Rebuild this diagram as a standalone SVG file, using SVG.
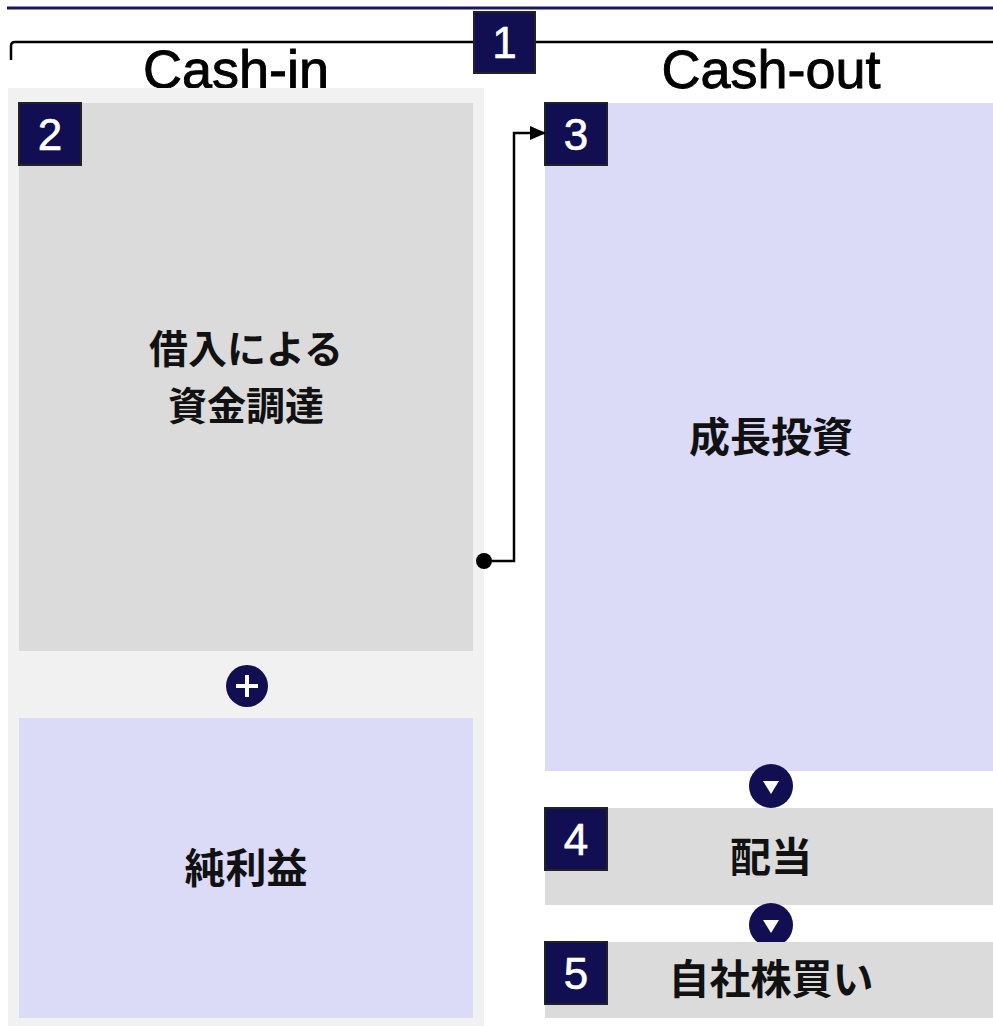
<svg xmlns="http://www.w3.org/2000/svg" width="993" height="1026" viewBox="0 0 993 1026">
<style>
.badge rect{fill:#110f52;stroke:#222;stroke-width:2}
.badge text{fill:#fff;font-family:"Liberation Sans",Arial,sans-serif;font-size:44px;text-anchor:middle;stroke:#fff;stroke-width:0.6}
.jp{font-family:"Noto Sans CJK JP",sans-serif;font-weight:bold;font-size:41px;fill:#111;text-anchor:middle}
.jp2{font-size:39px}
.hdr{font-family:"Liberation Sans",Arial,sans-serif;font-size:54px;fill:#000;text-anchor:middle;stroke:#000;stroke-width:0.9}
.grey{fill:#dbdbdb}
.lav{fill:#dbdaf7}
.circ{fill:#110f52}
</style>
<defs>
<marker id="arr" markerWidth="16" markerHeight="14" refX="15" refY="7" orient="auto" markerUnits="userSpaceOnUse" viewBox="0 0 16 14">
<path d="M0,0 L16,7 L0,14 z" fill="#000"/>
</marker>
</defs>
<rect width="993" height="1026" fill="#fff"/>
<line x1="7" y1="8" x2="993" y2="8" stroke="#1a1860" stroke-width="3"/>
<path d="M11,60 V46 Q11,42 15,42 H993" fill="none" stroke="#000" stroke-width="2.5"/>
<text class="hdr" x="236" y="88">Cash-in</text>
<text class="hdr" x="771" y="88">Cash-out</text>
<g id="node-cashin-panel"><rect x="8" y="88" width="476" height="938" fill="#f1f1f1"/></g>
<g id="node1" class="badge"><rect x="474" y="12" width="61" height="61"/><text x="504.5" y="58">1</text></g>
<g id="node2">
<rect class="grey" x="19" y="103" width="454" height="548"/>
<g class="badge"><rect x="19" y="103" width="62" height="62"/><text x="50" y="150">2</text></g>
<text class="jp jp2" x="246" y="363">借入による</text>
<text class="jp jp2" x="246" y="420">資金調達</text>
</g>
<g id="plus"><circle class="circ" cx="247" cy="686" r="21"/><path d="M236,686 H258 M247,675 V697" stroke="#fff" stroke-width="4"/></g>
<g id="node-netincome">
<rect class="lav" x="19" y="718" width="454" height="300"/>
<text class="jp" x="246" y="883">純利益</text>
</g>
<g id="node3">
<rect class="lav" x="545" y="103" width="448" height="668"/>
<g class="badge"><rect x="545" y="103" width="62" height="62"/><text x="576" y="150">3</text></g>
<text class="jp" x="771" y="452">成長投資</text>
</g>
<g id="down1"><circle class="circ" cx="771" cy="786" r="22"/><path d="M763,781 H779 L771,794 z" fill="#fff"/></g>
<g id="node4">
<rect class="grey" x="545" y="808" width="448" height="97"/>
<g class="badge"><rect x="545" y="808" width="62" height="62"/><text x="576" y="855">4</text></g>
<text class="jp" x="771" y="872">配当</text>
</g>
<g id="down2"><circle class="circ" cx="771" cy="925" r="22"/><path d="M763,920 H779 L771,933 z" fill="#fff"/></g>
<g id="node5">
<rect class="grey" x="545" y="942" width="448" height="76"/>
<g class="badge"><rect x="545" y="942" width="62" height="62"/><text x="576" y="989">5</text></g>
<text class="jp" x="771" y="994">自社株買い</text>
</g>
<g id="connectors">
<circle cx="484" cy="561" r="8" fill="#000"/>
<path d="M484,561 H514 V133 H545" fill="none" stroke="#000" stroke-width="2.5" marker-end="url(#arr)"/>
</g>
</svg>
